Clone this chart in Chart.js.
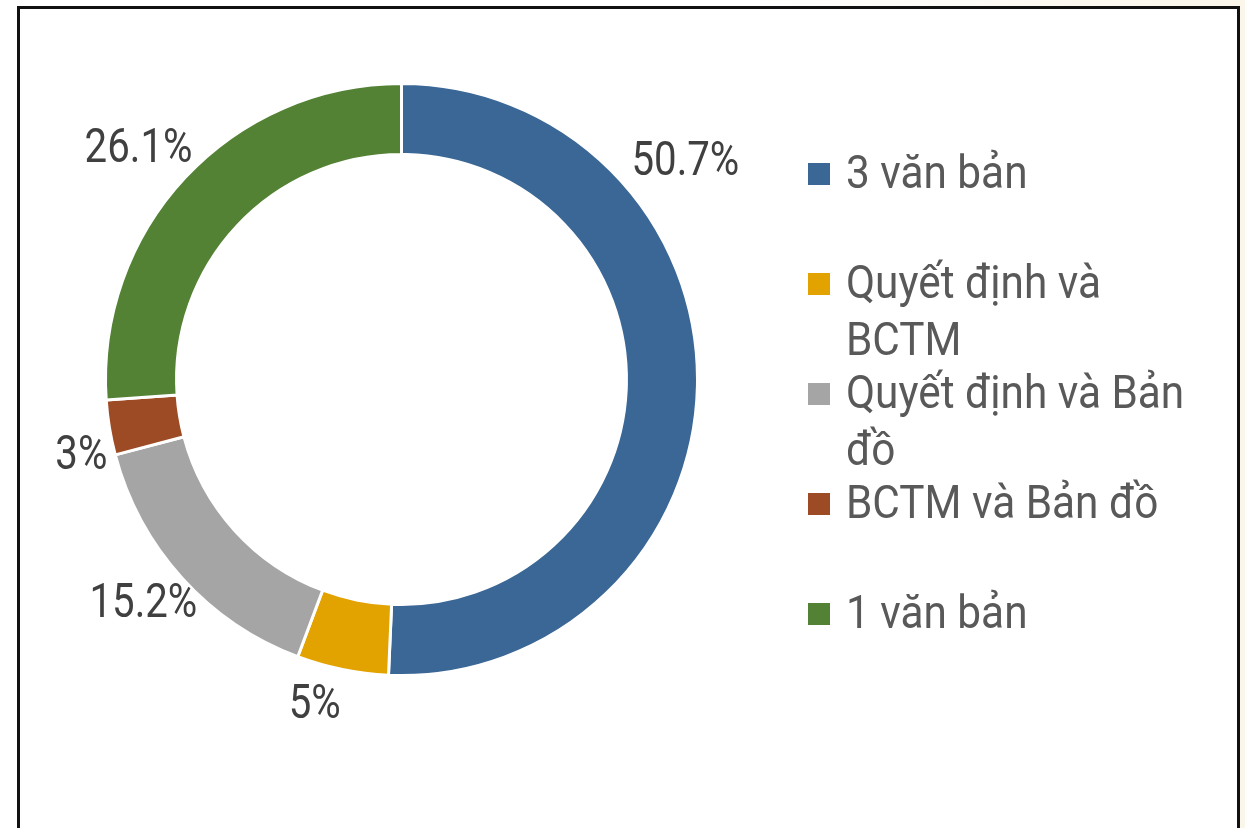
<!DOCTYPE html>
<html>
<head>
<meta charset="utf-8">
<script src="https://cdn.jsdelivr.net/npm/chart.js@4.4.1/dist/chart.umd.min.js"></script>
<style>
  html, body { margin: 0; padding: 0; }
  body {
    width: 1245px; height: 828px; overflow: hidden; position: relative;
    background: linear-gradient(to right, #ffffff 0%, #ffffff 60%, #fbf6ea 100%);
  }
  #frame {
    position: absolute; left: 17px; top: 6px; width: 1223px; height: 900px;
    box-sizing: border-box; border: 3px solid #111; background: #fff;
  }
  #chart { position: absolute; left: 0; top: 0; }
</style>
</head>
<body>
<div id="frame"></div>
<canvas id="chart" width="1245" height="828"></canvas>
<script>
const categories = ['3 văn bản', 'Quyết định và BCTM', 'Quyết định và Bản đồ', 'BCTM và Bản đồ', '1 văn bản'];
const values = [50.7, 5, 15.2, 3, 26.1];
const colors = ['#3A6795', '#E2A200', '#A5A5A5', '#9D4B24', '#548235'];

// where along each slice its label sits (0 = start, 1 = end), and gap from the ring
const labelFrac = [0.285, 0.7, 0.53, 0.19, 0.487];
const labelGap = [11, 13, -9, 3, 5];

// percent labels outside the ring, condensed look
const outsideLabels = {
  id: 'outsideLabels',
  afterDatasetsDraw(chart) {
    const ctx = chart.ctx;
    const meta = chart.getDatasetMeta(0);
    const size = 49, squeeze = 0.82, capH = size * 0.711;
    ctx.save();
    ctx.font = size + 'px Roboto';
    ctx.fillStyle = '#404040';
    ctx.textAlign = 'center';
    ctx.textBaseline = 'alphabetic';
    meta.data.forEach((arc, i) => {
      const p = arc.getProps(['x', 'y', 'startAngle', 'endAngle', 'outerRadius'], true);
      const a = p.startAngle + (p.endAngle - p.startAngle) * labelFrac[i];
      const text = chart.data.datasets[0].data[i] + '%';
      const w = ctx.measureText(text).width * squeeze;
      const ext = Math.abs(Math.cos(a)) * w / 2 + Math.abs(Math.sin(a)) * capH / 2;
      const d = p.outerRadius + labelGap[i] + ext;
      const cx = p.x + Math.cos(a) * d;
      const cy = p.y + Math.sin(a) * d;
      ctx.save();
      ctx.translate(cx, cy + capH / 2);
      ctx.scale(squeeze, 1);
      ctx.fillText(text, 0, 0);
      ctx.restore();
    });
    ctx.restore();
  }
};

// legend on the right, wrapped like the original
const sideLegend = {
  id: 'sideLegend',
  afterDraw(chart) {
    const { ctx, chartArea } = chart;
    const size = 46, squeeze = 0.92;
    const left = chartArea.right + 109;
    const textX = left + 38;
    const maxW = 360;
    const ds = chart.data.datasets[0];
    ctx.save();
    ctx.font = size + 'px Roboto';
    ctx.textAlign = 'left';
    ctx.textBaseline = 'alphabetic';
    chart.data.labels.forEach((name, i) => {
      const base = chartArea.top + 106 + i * 110;
      ctx.fillStyle = ds.backgroundColor[i];
      ctx.fillRect(left, base - 25, 22, 22);
      const lines = [];
      let cur = '';
      name.split(' ').forEach(word => {
        const t = cur ? cur + ' ' + word : word;
        if (cur && ctx.measureText(t).width * squeeze > maxW) {
          lines.push(cur);
          cur = word;
        } else {
          cur = t;
        }
      });
      lines.push(cur);
      ctx.fillStyle = '#595959';
      lines.forEach((ln, j) => {
        ctx.save();
        ctx.translate(textX, base + j * 57);
        ctx.scale(squeeze, 1);
        ctx.fillText(ln, 0, 0);
        ctx.restore();
      });
    });
    ctx.restore();
  }
};

const ctx = document.getElementById('chart').getContext('2d');
const donut = new Chart(ctx, {
  type: 'doughnut',
  data: {
    labels: categories,
    datasets: [{
      data: values,
      backgroundColor: colors,
      borderColor: '#ffffff',
      borderWidth: 3,
      hoverOffset: 0
    }]
  },
  options: {
    responsive: false,
    animation: false,
    cutout: '76%',
    layout: {
      padding: { left: 104, right: 546, top: 82, bottom: 151 }
    },
    plugins: {
      legend: { display: false },
      tooltip: { enabled: false }
    }
  },
  plugins: [outsideLabels, sideLegend]
});
</script>
</body>
</html>
